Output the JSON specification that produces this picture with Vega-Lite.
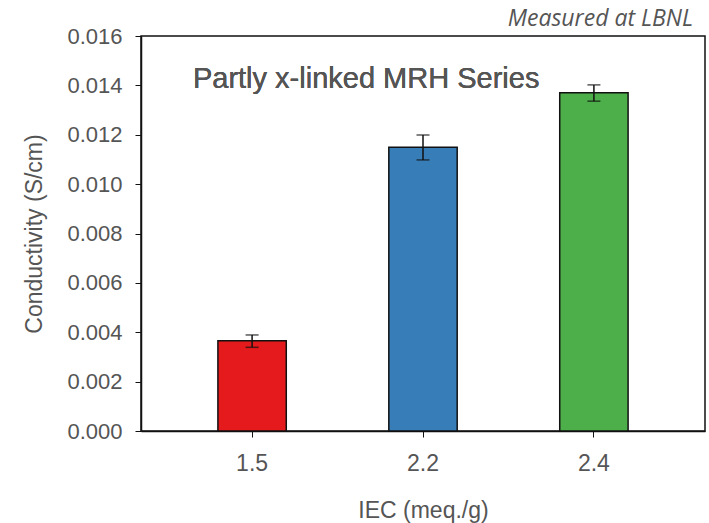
{
  "$schema": "https://vega.github.io/schema/vega-lite/v6.json",
  "width": 564,
  "height": 395,
  "autosize": {"type": "none"},
  "padding": {"left": 141, "top": 36, "right": 4, "bottom": 92},
  "background": "white",
  "config": {
    "view": {"stroke": "#111", "strokeWidth": 1.5},
    "font": "Liberation Sans",
    "axis": {
      "domainColor": "#111",
      "domainWidth": 1.5,
      "tickColor": "#111",
      "tickWidth": 1,
      "tickSize": 6,
      "labelColor": "#555",
      "titleColor": "#555",
      "labelFont": "Liberation Sans",
      "titleFont": "Liberation Sans",
      "titleFontWeight": "normal",
      "grid": false
    }
  },
  "title": {
    "text": "Measured at LBNL",
    "anchor": "end",
    "frame": "group",
    "font": "Open Sans",
    "fontStyle": "italic",
    "fontWeight": "normal",
    "fontSize": 23,
    "color": "#555",
    "dx": -12,
    "offset": -6
  },
  "data": {
    "values": [
      {"iec": "1.5", "cond": 0.00366, "lo": 0.00339, "hi": 0.00389},
      {"iec": "2.2", "cond": 0.01149, "lo": 0.01098, "hi": 0.01199},
      {"iec": "2.4", "cond": 0.01370, "lo": 0.01336, "hi": 0.01402}
    ]
  },
  "encoding": {
    "x": {
      "field": "iec",
      "type": "nominal",
      "scale": {"paddingInner": 0.6, "paddingOuter": 0.45},
      "axis": {
        "title": "IEC (meq./g)",
        "labelAngle": 0,
        "labelFontSize": 23,
        "labelPadding": 15,
        "titleFontSize": 23,
        "titlePadding": 24
      }
    }
  },
  "layer": [
    {
      "mark": {"type": "bar", "stroke": "#111", "strokeWidth": 1.5},
      "encoding": {
        "y": {
          "field": "cond",
          "type": "quantitative",
          "scale": {"domain": [0, 0.016], "nice": false},
          "axis": {
            "title": "Conductivity (S/cm)",
            "values": [0, 0.002, 0.004, 0.006, 0.008, 0.01, 0.012, 0.014, 0.016],
            "format": ".3f",
            "labelFontSize": 22,
            "labelPadding": 13,
            "titleFontSize": 23,
            "titlePadding": 20
          }
        },
        "color": {
          "field": "iec",
          "type": "nominal",
          "scale": {"range": ["#e41a1c", "#377eb8", "#4daf4a"]},
          "legend": null
        }
      }
    },
    {
      "mark": {"type": "rule", "color": "#111", "strokeWidth": 1.5},
      "encoding": {
        "y": {"field": "lo", "type": "quantitative"},
        "y2": {"field": "hi"}
      }
    },
    {
      "mark": {"type": "tick", "color": "#111", "size": 13, "thickness": 1.5, "orient": "horizontal"},
      "encoding": {"y": {"field": "lo", "type": "quantitative"}}
    },
    {
      "mark": {"type": "tick", "color": "#111", "size": 13, "thickness": 1.5, "orient": "horizontal"},
      "encoding": {"y": {"field": "hi", "type": "quantitative"}}
    },
    {
      "mark": {"type": "text", "align": "left", "baseline": "middle", "fontSize": 29, "color": "#555", "font": "Liberation Sans", "dx": -25},
      "encoding": {
        "x": {"datum": "1.5", "bandPosition": 0},
        "y": {"datum": 0.01426},
        "text": {"value": "Partly x-linked MRH Series"}
      }
    }
  ]
}
